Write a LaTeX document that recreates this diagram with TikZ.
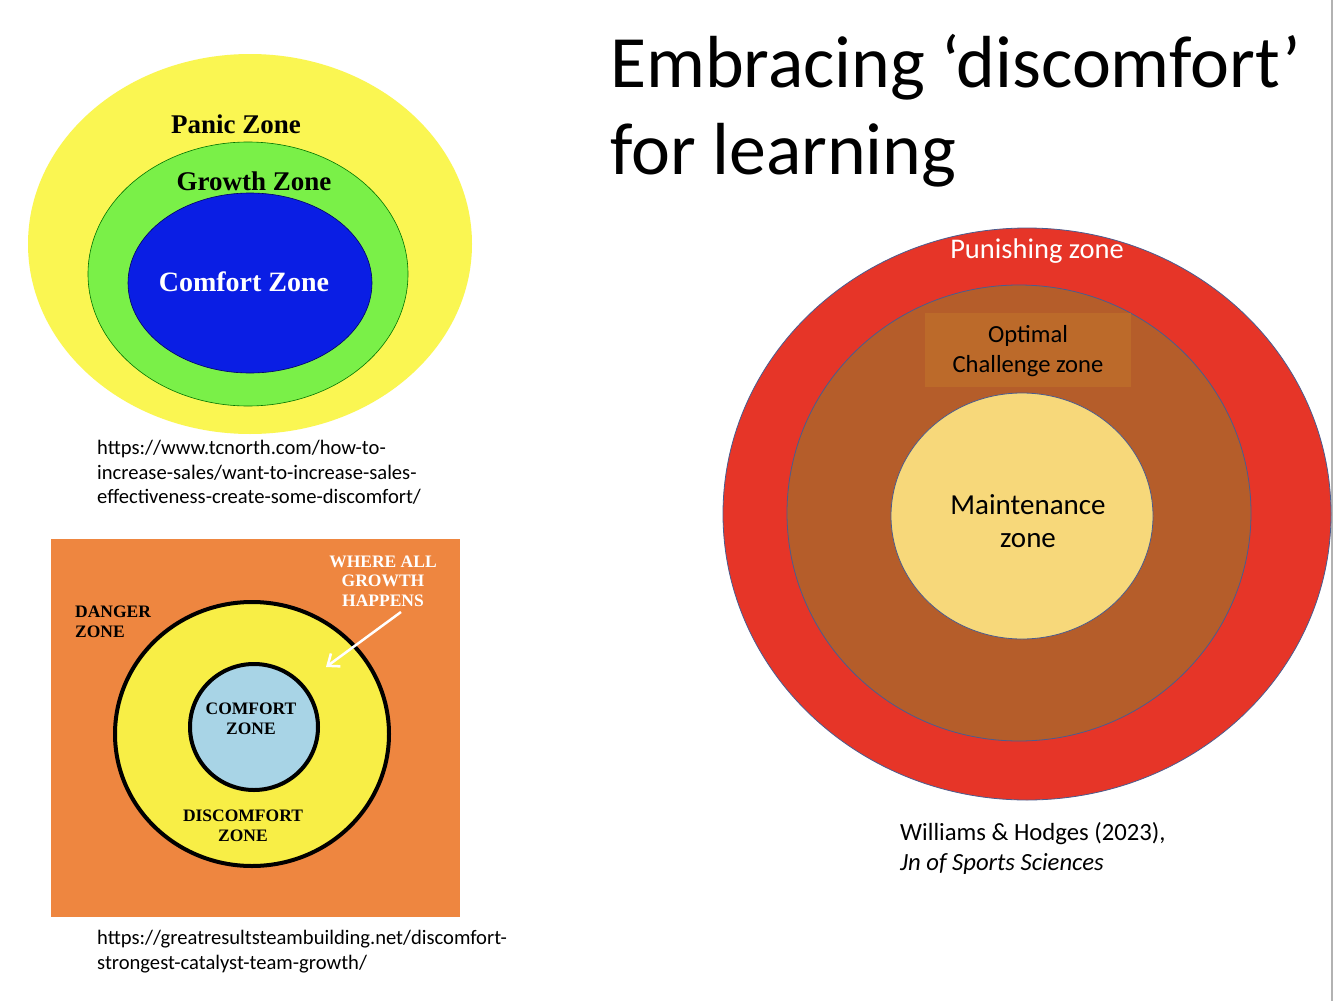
\documentclass[tikz,border=0pt]{standalone}
\usepackage{fontspec}
\setmainfont{Carlito}
\newfontfamily\serifbold{Liberation Serif}
\usetikzlibrary{arrows.meta}

\definecolor{panicyellow}{RGB}{250,246,82}
\definecolor{growthgreen}{RGB}{122,240,72}
\definecolor{comfortblue}{RGB}{10,30,228}
\definecolor{dangerorange}{RGB}{238,134,64}
\definecolor{discomfortyellow}{RGB}{248,238,70}
\definecolor{lightblue}{RGB}{168,212,230}
\definecolor{punishred}{RGB}{230,53,40}
\definecolor{optimalbrown}{RGB}{181,93,42}
\definecolor{optimalbox}{RGB}{188,106,42}
\definecolor{maintyellow}{RGB}{247,216,122}
\definecolor{ringline}{RGB}{75,92,142}

\begin{document}
\begin{tikzpicture}[x=1pt,y=-1pt,
    zonelabel/.style={font=\serifbold\bfseries\fontsize{27}{27}\selectfont},
    stencil/.style={font=\serifbold\bfseries\fontsize{17.5}{19.5}\selectfont,align=center,inner sep=0pt},
    source/.style={font=\fontsize{20.6}{24.5}\selectfont,align=left,anchor=north west,inner sep=0pt},
    ring/.style={draw=ringline,line width=0.8pt}]
    \useasboundingbox (0,0) rectangle (1334,1001);
    \fill[white] (0,0) rectangle (1334,1001);
    \draw[gray!60,line width=1.5pt] (1332,0) -- (1332,1001);

    % title
    \node[anchor=north west,inner sep=0pt,align=left,font=\fontsize{73.8}{87}\selectfont] (title) at (610,34)
        {Embracing ‘discomfort’\\for learning};

    % tcnorth picture
    \fill[panicyellow] (250,244) ellipse [x radius=222pt, y radius=190pt];
    \filldraw[fill=growthgreen,draw=green!45!black,line width=0.6pt] (248,274) ellipse [x radius=160pt, y radius=132pt];
    \filldraw[fill=comfortblue,draw=blue!40!black,line width=0.6pt] (250,283) ellipse [x radius=122pt, y radius=90pt];
    \node[zonelabel] (panic) at (236,124) {Panic Zone};
    \node[zonelabel] (growth) at (254,181) {Growth Zone};
    \node[zonelabel,white,font=\serifbold\bfseries\fontsize{28}{28}\selectfont] (comfort) at (244,282) {Comfort Zone};
    \node[source] (tcnorth) at (97,440)
        {https://www.tcnorth.com/how-to-\\increase-sales/want-to-increase-sales-\\effectiveness-create-some-discomfort/};

    % greatresults picture
    \fill[dangerorange] (51,539) rectangle (460,917);
    \filldraw[fill=discomfortyellow,draw=black,line width=4pt] (252,734) ellipse [x radius=137pt, y radius=132pt];
    \filldraw[fill=lightblue,draw=black,line width=4pt] (254,727) ellipse [x radius=64pt, y radius=63pt];
    \node[stencil,align=left,anchor=west] (danger) at (75,622) {DANGER\\ZONE};
    \node[stencil,white] (happens) at (383,581) {WHERE ALL\\GROWTH\\HAPPENS};
    \node[stencil] (comfortzone) at (251,719) {COMFORT\\ZONE};
    \node[stencil] (discomfort) at (243,826) {DISCOMFORT\\ZONE};
    \coordinate (arrowtail) at (401,612);
    \coordinate (arrowtip) at (326,667);
    \draw[white,line width=2.5pt,-{Straight Barb[length=10pt,width=16pt]}] (arrowtail) -- (arrowtip);
    \node[source] (greatresults) at (97,930)
        {https://greatresultsteambuilding.net/discomfort-\\strongest-catalyst-team-growth/};

    % Williams and Hodges
    \filldraw[fill=punishred,ring] (1027,514) ellipse [x radius=304pt, y radius=286pt];
    \filldraw[fill=optimalbrown,ring] (1019,513) ellipse [x radius=232pt, y radius=228pt];
    \fill[optimalbox] (925,313) rectangle (1131,387);
    \filldraw[fill=maintyellow,ring] (1022,516) ellipse [x radius=131pt, y radius=123pt];
    \node[white,font=\fontsize{28.5}{28.5}\selectfont] (punishing) at (1037,251) {Punishing zone};
    \node[align=center,font=\fontsize{24.6}{30}\selectfont] (optimal) at (1028,351) {Optimal\\Challenge zone};
    \node[align=center,font=\fontsize{29}{33}\selectfont] (maintenance) at (1028,521) {Maintenance\\zone};
    \node[source,font=\fontsize{24.7}{30}\selectfont] (citation) at (900,822)
        {Williams \& Hodges (2023),\\\textit{Jn of Sports Sciences}};
\end{tikzpicture}
\end{document}
